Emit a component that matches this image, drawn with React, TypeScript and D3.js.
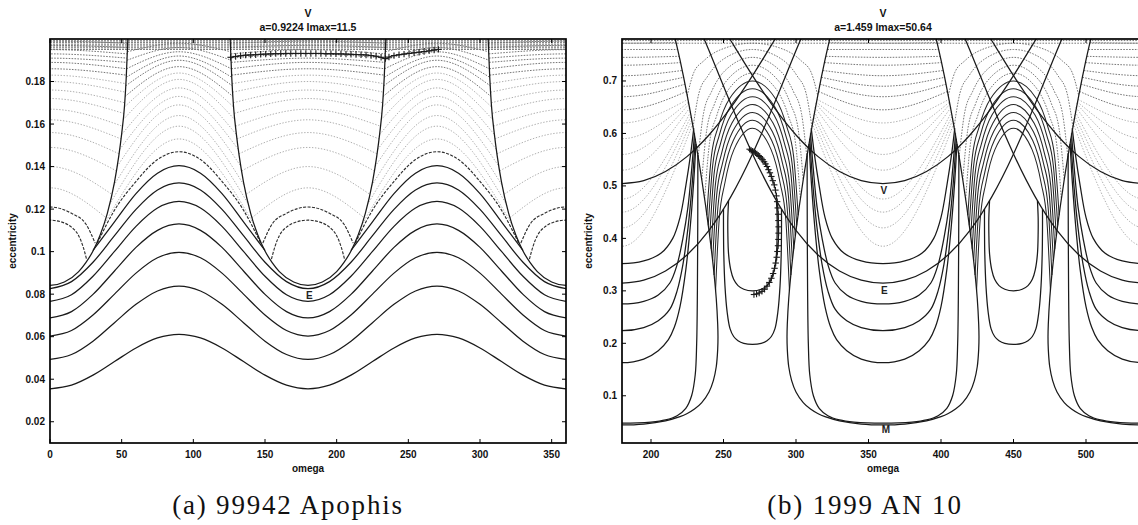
import React from 'react';
import * as d3 from 'd3';

type Pt = [number, number];

// ================= Panel (a) 99942 Apophis =================
const A_TITLE_TOP = 'V';
const A_TITLE = 'a=0.9224 Imax=11.5';
const A_CAPTION = '(a) 99942 Apophis';
const A_X_TICKS = [0, 50, 100, 150, 200, 250, 300, 350];
const A_Y_TICKS = [0.02, 0.04, 0.06, 0.08, 0.1, 0.12, 0.14, 0.16, 0.18];

// circulating solid level curves sampled at offsets from the crest (omega = 90, 270)
const A_CREST_OFF = [0, 15, 30, 45, 60, 75, 90];
const A_CIRC_1 = [0.0611, 0.0594, 0.0547, 0.0483, 0.0419, 0.0372, 0.0355];
const A_CIRC_2 = [0.0838, 0.0815, 0.0752, 0.0666, 0.0579, 0.0516, 0.0493];
const A_CIRC_3 = [0.0997, 0.0971, 0.0899, 0.08, 0.0702, 0.0629, 0.0603];
const A_CIRC_4 = [0.113, 0.11, 0.102, 0.0909, 0.0799, 0.0718, 0.0688];
const A_CIRC_5 = [0.1236, 0.1205, 0.1119, 0.1001, 0.0884, 0.0797, 0.0766];
const A_CIRC_6 = [0.1323, 0.129, 0.1199, 0.1075, 0.095, 0.0859, 0.0826];

// crest arcs cut by the Earth-crossing walls
const A_ARC_P1_OFF = [0, 15, 30, 45, 60];
const A_ARC_P1_E = [0.1404, 0.1369, 0.1273, 0.114, 0.1005];
const A_ARC_P2_OFF = [0, 15, 30, 45, 57];
const A_ARC_P2_E = [0.147, 0.1433, 0.133, 0.1195, 0.104];

// lighter crest arcs: crest value / value where they reach the wall
const A_CREST_PEAK = [0.153, 0.159, 0.164, 0.169, 0.173, 0.177, 0.181, 0.184, 0.187, 0.19, 0.192, 0.194, 0.196, 0.198];
const A_CREST_END = [0.112, 0.122, 0.131, 0.14, 0.148, 0.155, 0.162, 0.168, 0.173, 0.178, 0.182, 0.186, 0.19, 0.194];

// dome arcs inside the Earth-crossing U (omega = 0, 180, 360)
const A_DOME1_OFF = [0, 10, 15, 20, 23, 25.5];
const A_DOME1_E = [0.1148, 0.1135, 0.1115, 0.1075, 0.1025, 0.0965];
const A_DOME2_OFF = [0, 15, 25, 31.5];
const A_DOME2_E = [0.121, 0.118, 0.113, 0.104];
const A_DOME_PEAK = [0.13, 0.14, 0.149, 0.156, 0.162, 0.167, 0.172, 0.176, 0.18, 0.183, 0.186, 0.189, 0.191, 0.193, 0.195, 0.197, 0.199];
const A_DOME_END = [0.116, 0.127, 0.138, 0.146, 0.153, 0.159, 0.165, 0.17, 0.175, 0.179, 0.183, 0.186, 0.189, 0.191, 0.193, 0.196, 0.198];
const A_TOP_BAND = [0.1952, 0.1962, 0.1972, 0.1982, 0.1991];

// Earth node-crossing curve (U shape around omega = 0, 180, 360)
const A_EWALL_OFF = [0, 10, 20, 25, 30, 35, 40, 45, 48, 50, 52, 53.2, 54, 54.6];
const A_EWALL_E = [0.0841, 0.0857, 0.0906, 0.0948, 0.1003, 0.1078, 0.118, 0.1327, 0.145, 0.1554, 0.1686, 0.182, 0.195, 0.205];

// evolution track (+ markers)
const A_TRACK_OMEGA = [126, 129.5, 133, 136.5, 140, 143.5, 147, 150.5, 154, 157.5, 161, 164.5, 168, 171.5, 175, 178.5, 182, 185.5, 189, 192.5, 196, 199.5, 203, 206.5, 210, 213.5, 217, 220.5, 224, 227.5, 231, 234, 236.5, 240, 243.5, 247, 250.5, 254, 257.5, 261, 264.5, 268, 271];
const A_TRACK_E = [0.1914, 0.1918, 0.1921, 0.1924, 0.1925, 0.1926, 0.1928, 0.1929, 0.193, 0.1931, 0.1931, 0.1932, 0.1932, 0.1932, 0.1932, 0.1932, 0.1932, 0.1932, 0.1932, 0.1931, 0.1931, 0.193, 0.193, 0.1929, 0.1928, 0.1927, 0.1926, 0.1925, 0.1922, 0.1919, 0.1914, 0.1908, 0.1915, 0.1922, 0.1926, 0.1929, 0.1932, 0.1935, 0.1938, 0.1941, 0.1944, 0.1948, 0.1951];

const A_LABEL_TEXT = ['E'];
const A_LABEL_OMEGA = [181];
const A_LABEL_E = [0.0795];

// ================= Panel (b) 1999 AN 10 =================
const B_TITLE_TOP = 'V';
const B_TITLE = 'a=1.459 Imax=50.64';
const B_CAPTION = '(b) 1999 AN 10';
const B_X_TICKS = [200, 250, 300, 350, 400, 450, 500];
const B_Y_TICKS = [0.1, 0.2, 0.3, 0.4, 0.5, 0.6, 0.7];

// Earth crossing (descending node branch), omega / e
const B_E_DESC_OMEGA = [180, 195, 210, 225, 240, 255, 270, 275, 280, 285, 290, 295, 300, 305, 310];
const B_E_DESC_E = [0.3146, 0.3203, 0.3378, 0.3687, 0.4152, 0.4792, 0.5609, 0.5917, 0.6236, 0.6566, 0.6903, 0.7242, 0.7579, 0.791, 0.823];
// Venus crossing (descending node branch)
const B_V_DESC_OMEGA = [180, 195, 210, 225, 240, 255, 270, 285, 290];
const B_V_DESC_E = [0.5045, 0.5101, 0.5274, 0.5563, 0.5971, 0.649, 0.7102, 0.7772, 0.8];
// Mars crossing loop, offset from its centre (180, 360, 540)
const B_M_LOOP_OFF = [0, 15, 30, 40, 45, 50, 55, 60, 63, 65, 66, 66.2, 66, 65, 63, 60, 55, 50, 45, 40, 36.7, 35];
const B_M_LOOP_E = [0.0446, 0.0462, 0.0523, 0.0602, 0.0662, 0.0746, 0.087, 0.1073, 0.129, 0.1553, 0.1884, 0.2124, 0.2364, 0.2853, 0.3452, 0.4149, 0.5122, 0.5968, 0.6723, 0.74, 0.78, 0.8];

// solid level curves inside the Mars loops (offset from 180 / 360 / 540)
const B_U0_OFF = [0, 20, 30, 38, 44, 48, 50.5, 51.5, 52, 52.2, 52.3, 52.3];
const B_U0_E = [0.048, 0.05, 0.054, 0.062, 0.076, 0.1, 0.14, 0.2, 0.3, 0.4, 0.5, 0.56];
const B_U1_OFF = [0, 15, 25, 32, 36, 40, 44, 47, 49.5, 51];
const B_U1_E = [0.163, 0.17, 0.186, 0.207, 0.23, 0.27, 0.34, 0.42, 0.51, 0.58];
const B_U2_OFF = [0, 15, 25, 33, 38, 42, 45.5, 48.3, 50.5];
const B_U2_E = [0.224, 0.23, 0.243, 0.265, 0.3, 0.35, 0.42, 0.5, 0.59];
const B_U3_OFF = [0, 15, 25, 33, 38, 42, 45.5, 48, 50];
const B_U3_E = [0.275, 0.28, 0.292, 0.315, 0.35, 0.4, 0.46, 0.53, 0.6];
const B_U4_OFF = [0, 15, 27, 35, 40, 44, 47.3, 49.5];
const B_U4_E = [0.352, 0.357, 0.372, 0.4, 0.44, 0.5, 0.56, 0.61];
// dotted level curves inside the Mars loops: bottom value, end offset, end value
const B_UL_BOTTOM = [0.385, 0.42, 0.45, 0.475, 0.53, 0.56, 0.59, 0.62, 0.645, 0.67, 0.69, 0.71, 0.73, 0.745, 0.76, 0.772];
const B_UL_END_OFF = [49, 48.5, 48, 47.5, 47, 46.5, 46, 45.5, 44.5, 43.5, 42.5, 41.5, 40.3, 39.3, 38.3, 37.3];
const B_UL_END_E = [0.62, 0.628, 0.635, 0.642, 0.65, 0.657, 0.66, 0.665, 0.68, 0.694, 0.707, 0.72, 0.735, 0.747, 0.76, 0.773];

// libration island curves (offset from 270 / 450)
const B_O1_OFF = [0, 6, 10, 13, 15, 16.5, 17, 17, 16.5];
const B_O1_E = [0.3, 0.303, 0.31, 0.322, 0.34, 0.37, 0.41, 0.44, 0.472];
const B_O2_OFF = [0, 6, 10, 13, 15.5, 17.5, 19, 19.8, 20, 20];
const B_O2_E = [0.198, 0.2, 0.205, 0.213, 0.228, 0.26, 0.31, 0.37, 0.42, 0.456];
// rainbow arcs over the islands: crest value, end offset, end value (on the Mars branch)
const B_ARC_PEAK = [0.61, 0.625, 0.64, 0.655, 0.67, 0.685, 0.7, 0.715, 0.73, 0.745, 0.76, 0.772];
const B_ARC_END_OFF = [25.5, 26.5, 27.5, 28.5, 29.5, 30.5, 31.5, 33, 35, 37.5, 41, 45];
const B_ARC_END_E = [0.3, 0.33, 0.357, 0.38, 0.405, 0.425, 0.444, 0.475, 0.512, 0.555, 0.612, 0.672];
// common arc profile: fraction of half-width / fraction of drop from crest
const B_ARC_PROFILE_T = [0, 0.5, 0.75, 0.9, 1];
const B_ARC_PROFILE_F = [0, 0.13, 0.34, 0.56, 1];
const B_TOP_BAND = [0.772, 0.777];

const B_TRACK_OMEGA = [268, 269, 270, 271, 272, 273, 274, 275, 276, 277, 278, 279, 280, 281, 282, 283, 284, 285, 285.8, 286.5, 287, 287.4, 287.7, 287.9, 288, 288, 287.9, 287.6, 287.2, 286.7, 286, 285.2, 284.2, 283, 281.6, 280, 278.3, 276.5, 274.6, 272.8, 271];
const B_TRACK_E = [0.57, 0.568, 0.566, 0.565, 0.563, 0.561, 0.558, 0.556, 0.553, 0.55, 0.546, 0.542, 0.537, 0.531, 0.525, 0.518, 0.51, 0.502, 0.492, 0.481, 0.47, 0.458, 0.446, 0.434, 0.422, 0.41, 0.398, 0.386, 0.375, 0.364, 0.353, 0.343, 0.333, 0.324, 0.316, 0.309, 0.303, 0.299, 0.296, 0.294, 0.293];

const B_LABEL_TEXT = ['V', 'E', 'M'];
const B_LABEL_OMEGA = [360.5, 361, 362];
const B_LABEL_E = [0.492, 0.302, 0.036];

// ================= helpers =================
const zip = (a: number[], b: number[]): Pt[] => a.map((v, i) => [v, b[i]] as Pt);
const mirror = (half: Pt[], c: number): Pt[] => {
  const left = half.slice().reverse().map(([o, e]) => [c - o, e] as Pt);
  const start = half[0][0] === 0 ? 1 : 0;
  const right = half.slice(start).map(([o, e]) => [c + o, e] as Pt);
  return left.concat(right);
};

const FONT = 'Liberation Sans, Arial, Helvetica, sans-serif';
const SERIF = 'Liberation Serif, Times New Roman, serif';

const ST_DARK = { stroke: '#1a1a1a', strokeWidth: 1.25, fill: 'none' };
const ST_DARK2 = { stroke: '#262626', strokeWidth: 1.05, fill: 'none' };
const ST_DARKDASH = { stroke: '#2e2e2e', strokeWidth: 1.15, fill: 'none', strokeDasharray: '3 1.4' };
const ST_BAND = { stroke: '#505050', strokeWidth: 1, fill: 'none', strokeDasharray: '2 1' };
const ST_MED = { stroke: '#707070', strokeWidth: 0.95, fill: 'none', strokeDasharray: '1.6 1.3' };
const ST_LIGHT = { stroke: '#a6a6a6', strokeWidth: 0.9, fill: 'none', strokeDasharray: '1.4 1.6' };

type Curve = { pts: Pt[]; style: any; smooth?: boolean };

function Axes({ x, y, xTicks, yTicks, left, right, top, bottom, fmt }: any) {
  const tl = 4;
  return (
    <g>
      <rect x={left} y={top} width={right - left} height={bottom - top} fill="none" stroke="#000" strokeWidth={1.7} />
      {xTicks.map((t: number) => (
        <g key={'x' + t}>
          <line x1={x(t)} x2={x(t)} y1={bottom} y2={bottom - tl} stroke="#000" strokeWidth={1} />
          <line x1={x(t)} x2={x(t)} y1={top} y2={top + tl} stroke="#000" strokeWidth={1} />
          <text x={x(t)} y={bottom + 15} fontSize={10} fontWeight="bold" fontFamily={FONT} textAnchor="middle" fill="#111">{t}</text>
        </g>
      ))}
      {yTicks.map((t: number) => (
        <g key={'y' + t}>
          <line x1={left} x2={left + tl} y1={y(t)} y2={y(t)} stroke="#000" strokeWidth={1} />
          <line x1={right} x2={right - tl} y1={y(t)} y2={y(t)} stroke="#000" strokeWidth={1} />
          <text x={left - 5} y={y(t) + 3.5} fontSize={10} fontWeight="bold" fontFamily={FONT} textAnchor="end" fill="#111">{fmt(t)}</text>
        </g>
      ))}
    </g>
  );
}

function Panel({ id, x, y, curves, track, labels, xTicks, yTicks, title, titleTop, caption, captionX, ylabX }: any) {
  const [left, right] = x.range();
  const [bottom, top] = y.range();
  const mono = d3.line<Pt>().x(d => x(d[0])).y(d => y(d[1])).curve(d3.curveMonotoneX);
  const smooth = d3.line<Pt>().x(d => x(d[0])).y(d => y(d[1])).curve(d3.curveCatmullRom.alpha(0.5));
  const fmt = (v: number) => d3.format('~g')(v);
  const cx = (left + right) / 2;
  return (
    <g>
      <defs>
        <clipPath id={id}>
          <rect x={left} y={top} width={right - left} height={bottom - top} />
        </clipPath>
      </defs>
      <g clipPath={`url(#${id})`}>
        {curves.map((c: Curve, i: number) => (
          <path key={i} d={(c.smooth ? smooth : mono)(c.pts) || ''} {...c.style} />
        ))}
        <path d={smooth(track) || ''} fill="none" stroke="#222" strokeWidth={1} />
        {track.map((p: Pt, i: number) => (
          <g key={'t' + i} stroke="#1a1a1a" strokeWidth={1.1}>
            <line x1={x(p[0]) - 3.2} x2={x(p[0]) + 3.2} y1={y(p[1])} y2={y(p[1])} />
            <line x1={x(p[0])} x2={x(p[0])} y1={y(p[1]) - 3.2} y2={y(p[1]) + 3.2} />
          </g>
        ))}
        {labels.map((l: any, i: number) => (
          <text key={'l' + i} x={x(l.omega)} y={y(l.e) + 4} fontSize={10} fontWeight="bold" fontFamily={FONT} textAnchor="middle" fill="#222">{l.text}</text>
        ))}
      </g>
      <Axes x={x} y={y} xTicks={xTicks} yTicks={yTicks} left={left} right={right} top={top} bottom={bottom} fmt={fmt} />
      <text x={cx} y={17} fontSize={10.5} fontWeight="bold" fontFamily={FONT} textAnchor="middle" fill="#111">{titleTop}</text>
      <text x={cx} y={31} fontSize={10.5} fontWeight="bold" fontFamily={FONT} textAnchor="middle" fill="#111">{title}</text>
      <text x={cx} y={472} fontSize={10} fontWeight="bold" fontFamily={FONT} textAnchor="middle" fill="#111">omega</text>
      <text transform={`translate(${ylabX},241) rotate(-90)`} fontSize={10} fontWeight="bold" fontFamily={FONT} textAnchor="middle" fill="#111">eccentricity</text>
      <text x={captionX} y={514} fontSize={27} fontFamily={SERIF} textAnchor="middle" fill="#111" letterSpacing={1.8}>{caption}</text>
    </g>
  );
}

export default function App() {
  // ---------- panel (a) ----------
  const xA = d3.scaleLinear().domain([0, 360]).range([50, 566]);
  const yA = d3.scaleLinear().domain([0.01, 0.2]).range([443, 39]);
  const wallOffAt = d3.scaleLinear().domain(A_EWALL_E).range(A_EWALL_OFF).clamp(true);

  const aCurves: Curve[] = [];
  A_TOP_BAND.forEach(e => aCurves.push({ pts: [[0, e], [360, e]], style: ST_BAND }));
  A_DOME_PEAK.forEach((p, i) => {
    const end = A_DOME_END[i];
    const half: Pt[] = [[0, p], [wallOffAt(end), end]];
    [0, 180, 360].forEach(c => aCurves.push({ pts: mirror(half, c), style: p > 0.185 ? ST_MED : ST_LIGHT }));
  });
  A_CREST_PEAK.forEach((p, i) => {
    const end = A_CREST_END[i];
    const half: Pt[] = [[0, p], [90 - wallOffAt(end), end]];
    [90, 270].forEach(c => aCurves.push({ pts: mirror(half, c), style: p > 0.185 ? ST_MED : ST_LIGHT }));
  });
  [0, 180, 360].forEach(c => {
    aCurves.push({ pts: mirror(zip(A_DOME1_OFF, A_DOME1_E), c), style: ST_DARKDASH });
    aCurves.push({ pts: mirror(zip(A_DOME2_OFF, A_DOME2_E), c), style: ST_DARKDASH });
  });
  [90, 270].forEach(c => {
    aCurves.push({ pts: mirror(zip(A_ARC_P2_OFF, A_ARC_P2_E), c), style: ST_DARKDASH });
    aCurves.push({ pts: mirror(zip(A_ARC_P1_OFF, A_ARC_P1_E), c), style: ST_DARK });
  });
  [A_CIRC_1, A_CIRC_2, A_CIRC_3, A_CIRC_4, A_CIRC_5, A_CIRC_6].forEach(arr => {
    const half = zip(A_CREST_OFF, arr);
    aCurves.push({ pts: mirror(half, 90).concat(mirror(half, 270).slice(1)), style: ST_DARK });
  });
  [0, 180, 360].forEach(c => aCurves.push({ pts: mirror(zip(A_EWALL_OFF, A_EWALL_E), c), style: ST_DARK }));

  const aTrack = zip(A_TRACK_OMEGA, A_TRACK_E);
  const aLabels = A_LABEL_TEXT.map((t, i) => ({ text: t, omega: A_LABEL_OMEGA[i], e: A_LABEL_E[i] }));

  // ---------- panel (b) ----------
  const xB = d3.scaleLinear().domain([180, 540]).range([622, 1144]);
  const yB = d3.scaleLinear().domain([0.01, 0.78]).range([443, 39]);
  const bCurves: Curve[] = [];
  B_TOP_BAND.forEach(e => bCurves.push({ pts: [[180, e], [540, e]], style: ST_MED }));
  B_UL_BOTTOM.forEach((b, i) => {
    const half: Pt[] = [[0, b], [B_UL_END_OFF[i], B_UL_END_E[i]]];
    [180, 360, 540].forEach(c => bCurves.push({ pts: mirror(half, c), style: b > 0.64 ? ST_MED : ST_LIGHT }));
  });
  B_ARC_PEAK.forEach((p, i) => {
    const off = B_ARC_END_OFF[i];
    const drop = p - B_ARC_END_E[i];
    const half: Pt[] = B_ARC_PROFILE_T.map((t, k) => [t * off, p - B_ARC_PROFILE_F[k] * drop] as Pt);
    [270, 450].forEach(c => bCurves.push({ pts: mirror(half, c), style: i < 7 ? ST_DARK2 : ST_MED }));
  });
  [[B_U0_OFF, B_U0_E], [B_U1_OFF, B_U1_E], [B_U2_OFF, B_U2_E], [B_U3_OFF, B_U3_E], [B_U4_OFF, B_U4_E]].forEach(([o, e]) => {
    [180, 360, 540].forEach(c => bCurves.push({ pts: mirror(zip(o, e), c), style: ST_DARK, smooth: true }));
  });
  [270, 450].forEach(c => {
    bCurves.push({ pts: mirror(zip(B_O1_OFF, B_O1_E), c), style: ST_DARK, smooth: true });
    bCurves.push({ pts: mirror(zip(B_O2_OFF, B_O2_E), c), style: ST_DARK, smooth: true });
  });
  const eDesc = zip(B_E_DESC_OMEGA, B_E_DESC_E);
  bCurves.push({ pts: eDesc, style: ST_DARK });
  bCurves.push({ pts: eDesc.map(([w, e]) => [720 - w, e] as Pt).reverse(), style: ST_DARK });
  bCurves.push({
    pts: eDesc.map(([w, e]) => [540 - w, e] as Pt).reverse().concat(eDesc.slice(1).map(([w, e]) => [180 + w, e] as Pt)),
    style: ST_DARK,
  });
  const vDesc = zip(B_V_DESC_OMEGA, B_V_DESC_E);
  bCurves.push({ pts: vDesc, style: ST_DARK });
  bCurves.push({ pts: vDesc.map(([w, e]) => [720 - w, e] as Pt).reverse(), style: ST_DARK });
  bCurves.push({
    pts: vDesc.map(([w, e]) => [540 - w, e] as Pt).reverse().concat(vDesc.slice(1).map(([w, e]) => [180 + w, e] as Pt)),
    style: ST_DARK,
  });
  [180, 360, 540].forEach(c => bCurves.push({ pts: mirror(zip(B_M_LOOP_OFF, B_M_LOOP_E), c), style: ST_DARK, smooth: true }));

  const bTrack = zip(B_TRACK_OMEGA, B_TRACK_E);
  const bLabels = B_LABEL_TEXT.map((t, i) => ({ text: t, omega: B_LABEL_OMEGA[i], e: B_LABEL_E[i] }));

  return (
    <svg width={1138} height={525} style={{ position: 'absolute', left: 0, top: 0, background: '#fff' }}>
      <rect x={0} y={0} width={1138} height={525} fill="#fff" />
      <Panel id="clipA" x={xA} y={yA} curves={aCurves} track={aTrack} labels={aLabels}
        xTicks={A_X_TICKS} yTicks={A_Y_TICKS} title={A_TITLE} titleTop={A_TITLE_TOP}
        caption={A_CAPTION} captionX={288} ylabX={16} />
      <Panel id="clipB" x={xB} y={yB} curves={bCurves} track={bTrack} labels={bLabels}
        xTicks={B_X_TICKS} yTicks={B_Y_TICKS} title={B_TITLE} titleTop={B_TITLE_TOP}
        caption={B_CAPTION} captionX={865} ylabX={592} />
    </svg>
  );
}
